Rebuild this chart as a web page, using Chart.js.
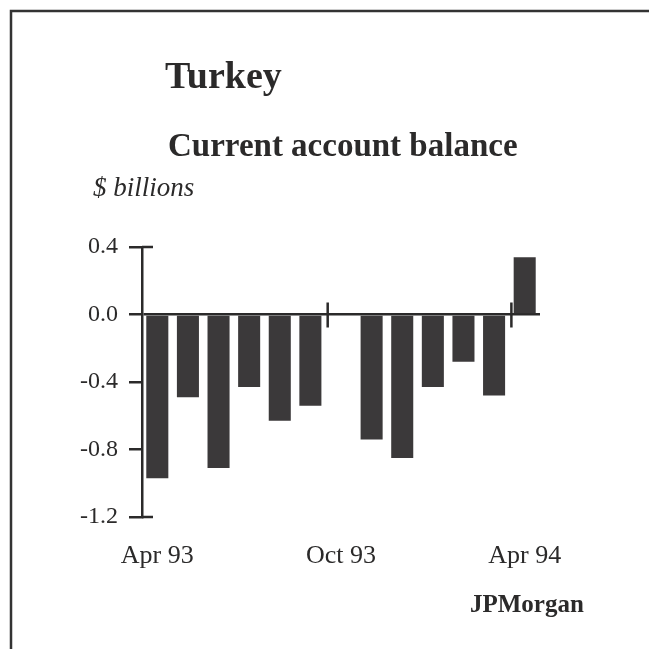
<!DOCTYPE html>
<html>
<head>
<meta charset="utf-8">
<title>Turkey — Current account balance</title>
<script src="https://cdn.jsdelivr.net/npm/chart.js@4.4.1/dist/chart.umd.min.js"></script>
<style>
  html, body { margin: 0; padding: 0; background: #ffffff; }
  #wrap { position: relative; width: 649px; height: 649px; }
</style>
</head>
<body>
<div id="wrap"><canvas id="chart"></canvas></div>
<script>
// Monthly current account balance, $ billions
const categories = ['Apr 93', 'May 93', 'Jun 93', 'Jul 93', 'Aug 93', 'Sep 93', 'Oct 93',
                    'Nov 93', 'Dec 93', 'Jan 94', 'Feb 94', 'Mar 94', 'Apr 94'];
const balance = [-0.97, -0.49, -0.91, -0.43, -0.63, -0.54, 0.0,
                 -0.74, -0.85, -0.43, -0.28, -0.48, 0.34];
const xTickLabels = ['Apr 93', 'Oct 93', 'Apr 94'];
const yTickValues = [0.4, 0.0, -0.4, -0.8, -1.2];

const INK = '#2b2a2a';
const BAR = '#3b393a';
const SERIF = '"Liberation Serif", "Times New Roman", Times, serif';

// Headings, frame, axis caps and the half-year marks on the zero line
const decorations = {
  id: 'decorations',
  beforeDraw(chart) {
    const ctx = chart.ctx;
    ctx.save();
    ctx.fillStyle = '#ffffff';
    ctx.fillRect(0, 0, chart.width, chart.height);
    ctx.strokeStyle = '#333';
    ctx.lineWidth = 2.5;
    ctx.beginPath();
    ctx.moveTo(chart.width, 11);
    ctx.lineTo(11, 11);
    ctx.lineTo(11, chart.height);
    ctx.stroke();
    ctx.restore();
  },
  afterDraw(chart) {
    const ctx = chart.ctx;
    const x = chart.scales.x;
    const y = chart.scales.y;
    ctx.save();
    ctx.fillStyle = INK;
    ctx.textBaseline = 'alphabetic';
    ctx.textAlign = 'left';
    ctx.font = 'bold 38px ' + SERIF;
    ctx.fillText('Turkey', 165, 88);
    ctx.font = 'bold 33px ' + SERIF;
    ctx.fillText('Current account balance', 168, 156);
    ctx.font = 'italic 27px ' + SERIF;
    ctx.fillText('$ billions', 93, 196);
    ctx.font = 'bold 25px ' + SERIF;
    ctx.fillText('JPMorgan', 470, 612);

    ctx.strokeStyle = INK;
    ctx.lineWidth = 2.5;
    ctx.beginPath();
    // caps at the ends of the value axis
    const left = chart.chartArea.left;
    [yTickValues[0], yTickValues[yTickValues.length - 1]].forEach(v => {
      const py = y.getPixelForValue(v);
      ctx.moveTo(left, py);
      ctx.lineTo(left + 11, py);
    });
    // half-year marks crossing the zero line
    const y0 = y.getPixelForValue(0);
    xTickLabels.slice(1).forEach(lbl => {
      const i = categories.indexOf(lbl);
      const px = (x.getPixelForValue(i - 1) + x.getPixelForValue(i)) / 2 + 2;
      ctx.moveTo(px, y0 - 12);
      ctx.lineTo(px, y0 + 13);
    });
    ctx.stroke();
    ctx.restore();
  }
};

new Chart(document.getElementById('chart'), {
  type: 'bar',
  data: {
    labels: categories,
    datasets: [{
      data: balance,
      backgroundColor: BAR,
      borderWidth: 0,
      barPercentage: 0.72,
      categoryPercentage: 1.0
    }]
  },
  options: {
    responsive: true,
    maintainAspectRatio: false,
    animation: false,
    layout: { padding: { left: 0, right: 109, top: 247, bottom: 72 } },
    plugins: {
      legend: { display: false },
      tooltip: { enabled: false },
      title: { display: false }
    },
    scales: {
      x: {
        offset: true,
        grid: { display: false },
        border: { display: false },
        afterFit(scale) { scale.height = 60; },
        ticks: {
          autoSkip: false,
          maxRotation: 0,
          padding: 16,
          color: INK,
          font: { family: SERIF, size: 26 },
          callback(value, index) {
            const lbl = categories[index];
            return xTickLabels.includes(lbl) ? lbl : '';
          }
        }
      },
      y: {
        min: yTickValues[yTickValues.length - 1],
        max: yTickValues[0],
        afterFit(scale) { scale.width = 142; },
        afterBuildTicks(scale) {
          scale.ticks = yTickValues.slice().reverse().map(v => ({ value: v }));
        },
        border: { display: true, color: INK, width: 2.5 },
        grid: {
          drawTicks: true,
          tickLength: 13,
          tickWidth: 2.5,
          tickColor: INK,
          lineWidth: 2.5,
          color: ctx => (ctx.tick && Math.abs(ctx.tick.value) < 1e-9) ? INK : 'rgba(0,0,0,0)'
        },
        ticks: {
          padding: 11,
          color: INK,
          font: { family: SERIF, size: 24 },
          callback: v => Number(v).toFixed(1)
        }
      }
    }
  },
  plugins: [decorations]
});
</script>
</body>
</html>
